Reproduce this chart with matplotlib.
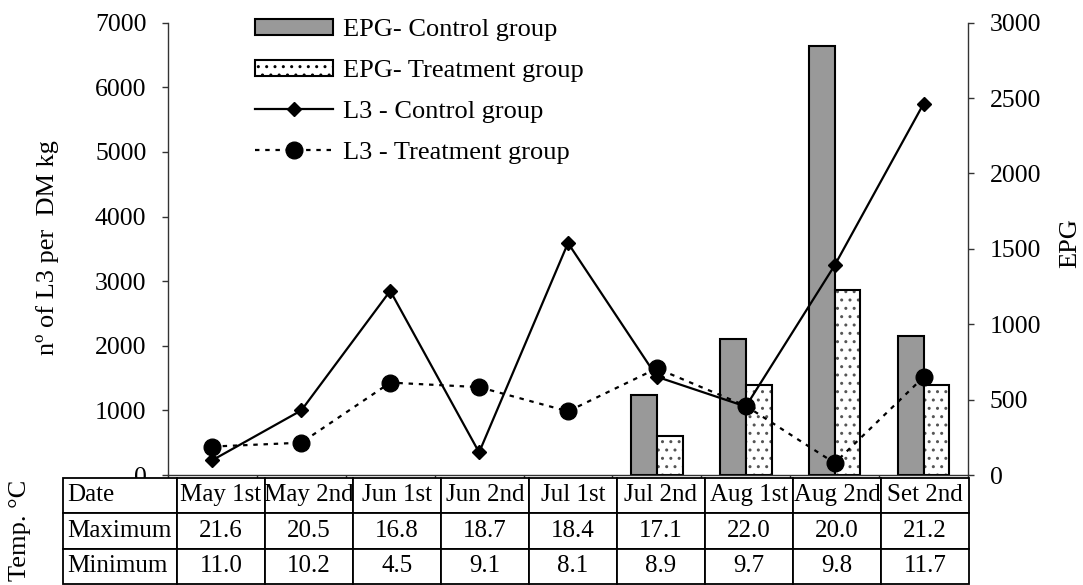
import numpy as np
import matplotlib
matplotlib.use("Agg")
import matplotlib.pyplot as plt
from matplotlib.lines import Line2D
from matplotlib.patches import Patch

# ── Data ──────────────────────────────────────────────────────────────────────
dates = ["May 1st", "May 2nd", "Jun 1st", "Jun 2nd", "Jul 1st",
         "Jul 2nd", "Aug 1st", "Aug 2nd", "Set 2nd"]

l3_control = [230, 1000, 2850, 350, 3590, 1520, 1060, 3245, 5745]
l3_treatment = [440, 500, 1430, 1360, 985, 1650, 1070, 185, 1515]

nan = np.nan
epg_control = [nan, nan, nan, nan, nan, 530, 905, 2845, 920]
epg_treatment = [nan, nan, nan, nan, nan, 260, 600, 1230, 600]

temp_max = ["21.6", "20.5", "16.8", "18.7", "18.4", "17.1", "22.0", "20.0", "21.2"]
temp_min = ["11.0", "10.2", "4.5", "9.1", "8.1", "8.9", "9.7", "9.8", "11.7"]

left_ticks = [0, 1000, 2000, 3000, 4000, 5000, 6000, 7000]
right_ticks = [0, 500, 1000, 1500, 2000, 2500, 3000]

# ── Style ─────────────────────────────────────────────────────────────────────
plt.rcParams["font.family"] = ["Liberation Serif", "DejaVu Serif"]
plt.rcParams["hatch.linewidth"] = 1.0

GRAY = "#999999"
DOTS = "#555555"
AXC = "#333333"

W, H = 1083, 585
fig = plt.figure(figsize=(W / 100, H / 100), dpi=100)


def fx(px):
    return px / W


def fy(py):
    return 1 - py / H


# main plot area (pixels: left 168, right 968, top 22.7, bottom 475)
ax = fig.add_axes([fx(168), fy(475), 800 / W, 452.3 / H])
ax2 = ax.twinx()

x = np.arange(len(dates))
bw = 0.29

ax2.bar(x - bw / 2, epg_control, width=bw, color=GRAY,
        edgecolor="black", linewidth=1.5, zorder=2)
# dotted fill first (hatch takes the edge colour), then the black outline
ax2.bar(x + bw / 2, epg_treatment, width=bw, color="white",
        edgecolor=DOTS, linewidth=0, hatch="..", zorder=2)
ax2.bar(x + bw / 2, epg_treatment, width=bw, fill=False,
        edgecolor="black", linewidth=1.5, zorder=2)

ax.plot(x, l3_control, color="black", linewidth=1.6, marker="D",
        markersize=7.5, zorder=3)
ax.plot(x, l3_treatment, color="black", linewidth=1.6, linestyle=(0, (2, 2.6)),
        marker="o", markersize=12, zorder=3)

# lines on top of the bars
ax.set_zorder(ax2.get_zorder() + 1)
ax.patch.set_visible(False)

ax.set_xlim(-0.5, len(dates) - 0.5)
ax.set_ylim(0, 7000)
ax2.set_ylim(0, 3000)
ax.set_yticks(left_ticks)
ax2.set_yticks(right_ticks)
ax.set_xticks(np.arange(-0.5, len(dates), 1.0))
ax.set_xticklabels([])

for a in (ax, ax2):
    a.spines["top"].set_visible(False)
    for s in a.spines.values():
        s.set_linewidth(1.0)
        s.set_color(AXC)
ax.spines["right"].set_visible(False)
ax2.spines["left"].set_visible(False)
ax2.spines["bottom"].set_visible(False)

for a in (ax, ax2):
    a.tick_params(axis="y", direction="out", length=4.5, width=1.0,
                  color=AXC, pad=11, labelsize=18.5)
ax.tick_params(axis="x", direction="out", length=3, width=1.0, color=AXC)

# axis titles
fig.text(fx(48), fy(248), "n\u00ba of L3 per  DM kg", rotation=90,
         ha="center", va="center", fontsize=19)
fig.text(fx(1070), fy(243), "EPG", rotation=90,
         ha="center", va="center", fontsize=19)
fig.text(fx(20), fy(530), "Temp. \u00b0C", rotation=90,
         ha="center", va="center", fontsize=19)

# legend
handles = [
    Patch(facecolor=GRAY, edgecolor="black", linewidth=1.5),
    Patch(facecolor="white", edgecolor="black", linewidth=1.5, hatch=".."),
    Line2D([], [], color="black", linewidth=1.6, marker="D", markersize=7.5),
    Line2D([], [], color="black", linewidth=1.6, linestyle=(0, (2, 2.6)),
           marker="o", markersize=12),
]
labels = ["EPG- Control group", "EPG- Treatment group",
          "L3 - Control group", "L3 - Treatment group"]
ax.legend(handles, labels, loc="upper left", bbox_to_anchor=(fx(255), fy(19)),
          bbox_transform=fig.transFigure, frameon=False, fontsize=19,
          handlelength=2.95, handleheight=0.55, handletextpad=0.38,
          labelspacing=0.7, borderpad=0, borderaxespad=0, numpoints=1)

# ── Temperature table ─────────────────────────────────────────────────────────
tax = fig.add_axes([fx(63), fy(584), 906 / W, 106.5 / H])
tax.set_zorder(ax.get_zorder() + 1)
tax.axis("off")
tax.add_patch(plt.Rectangle((0, 0), 1, 1, transform=tax.transAxes,
                            color="white", zorder=0))

cells = [["Date"] + dates, ["Maximum"] + temp_max, ["Minimum"] + temp_min]
col_w = [114 / 906] + [88 / 906] * len(dates)
tbl = tax.table(cellText=cells, colWidths=col_w, bbox=[0, 0, 1, 1],
                cellLoc="center")
tbl.auto_set_font_size(False)
tbl.set_fontsize(18)
for (r, c), cell in tbl.get_celld().items():
    cell.set_linewidth(1.3)
    cell.set_edgecolor("black")
    if c == 0:
        cell.PAD = 0.04
        cell.get_text().set_ha("left")
        cell._loc = "left"

fig.savefig("out.png", dpi=100)
